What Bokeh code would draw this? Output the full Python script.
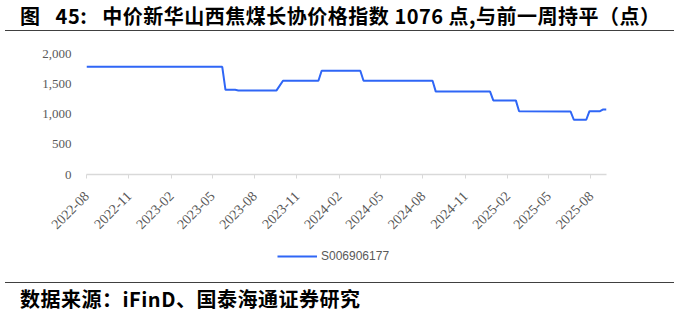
import pandas as pd
from bokeh.plotting import figure
from bokeh.layouts import column
from bokeh.models import (ColumnDataSource, FixedTicker, DatetimeTickFormatter, NumeralTickFormatter,
                          Legend, LegendItem, Range1d, Div)
from bokeh.embed import file_html
from bokeh.resources import INLINE

# ---- data ----
dates = ["2022-08-01", "2023-05-23", "2023-05-30", "2023-06-20", "2023-06-27",
         "2023-09-18", "2023-10-02", "2023-12-18", "2023-12-25", "2024-03-18",
         "2024-03-25", "2024-08-22", "2024-08-29", "2024-12-25", "2025-01-01",
         "2025-02-19", "2025-02-26", "2025-06-18", "2025-06-25", "2025-07-22",
         "2025-07-29", "2025-08-21", "2025-08-28", "2025-09-04"]
values = [1780, 1780, 1400, 1400, 1390,
          1390, 1550, 1550, 1715, 1715,
          1550, 1550, 1370, 1370, 1225,
          1225, 1046, 1040, 905, 905,
          1046, 1046, 1076, 1076]
x_tick_labels = ["2022-08", "2022-11", "2023-02", "2023-05", "2023-08", "2023-11",
                 "2024-02", "2024-05", "2024-08", "2024-11", "2025-02", "2025-05", "2025-08"]
y_ticks = [0, 500, 1000, 1500, 2000]
series_name = "S006906177"
title_text = "图&nbsp;&nbsp;&nbsp;45:&nbsp;&nbsp;&nbsp;中价新华山西焦煤长协价格指数 1076 点,与前一周持平（点）"
source_text = "数据来源：iFinD、国泰海通证券研究"

LINE_COLOR = "#2f66f6"

src = ColumnDataSource(dict(x=pd.to_datetime(dates), y=values))

FIG_TOP = 31       # canvas y where the chart figure starts
FIG_BOTTOM = 244   # canvas y where the chart figure ends
LEG_BOTTOM = 268   # canvas y where the legend strip ends
FL = 86            # frame left
FT = 53            # frame top (canvas)
FB = 174           # frame bottom (canvas)

p = figure(width=680, height=FIG_BOTTOM - FIG_TOP, x_axis_type="datetime", output_backend="svg",
           toolbar_location=None,
           x_range=Range1d(pd.Timestamp("2022-08-01"), pd.Timestamp("2025-09-04")),
           y_range=Range1d(0, 2000),
           min_border_left=FL, min_border_right=74, min_border_top=FT - FIG_TOP,
           min_border_bottom=FIG_BOTTOM - FB, margin=0)
p.outline_line_color = None
p.xgrid.visible = False
p.ygrid.visible = False

p.line("x", "y", source=src, line_color=LINE_COLOR, line_width=2)

tick_ms = [pd.Timestamp(t + "-01").value / 1e6 for t in x_tick_labels]
p.xaxis.ticker = FixedTicker(ticks=tick_ms)
fmt = "%Y-%m"
p.xaxis.formatter = DatetimeTickFormatter(days=fmt, months=fmt, years=fmt, hours=fmt,
                                          minutes=fmt, seconds=fmt, milliseconds=fmt,
                                          microseconds=fmt, hourmin=fmt, minsec=fmt)
p.xaxis.major_label_orientation = 0.785398
p.xaxis.axis_line_color = "#d9d9d9"
p.xaxis.axis_line_width = 1.5
p.xaxis.major_tick_line_color = "#d9d9d9"
p.xaxis.major_tick_in = 0
p.xaxis.major_tick_out = 4
p.xaxis.minor_tick_line_color = None
p.xaxis.major_label_text_font = "Liberation Serif"
p.xaxis.major_label_text_font_size = "14px"
p.xaxis.major_label_text_color = "#595959"
p.xaxis.major_label_standoff = 15

p.yaxis.ticker = FixedTicker(ticks=y_ticks)
p.yaxis.formatter = NumeralTickFormatter(format="0,0")
p.yaxis.axis_line_color = None
p.yaxis.major_tick_line_color = None
p.yaxis.major_tick_out = 0
p.yaxis.major_tick_in = 0
p.yaxis.minor_tick_line_color = None
p.yaxis.major_label_text_font = "Liberation Serif"
p.yaxis.major_label_text_font_size = "13px"
p.yaxis.major_label_text_color = "#595959"
p.yaxis.major_label_standoff = 15

# legend strip: a small figure whose frame covers it entirely
lh = LEG_BOTTOM - FIG_BOTTOM
pl = figure(width=680, height=lh, output_backend="svg", toolbar_location=None,
            x_range=Range1d(0, 1), y_range=Range1d(0, 1),
            min_border=0, margin=0, x_axis_location=None, y_axis_location=None)
pl.outline_line_color = None
pl.xgrid.visible = False
pl.ygrid.visible = False
# placeholder renderer (outside the visible range) that only feeds the legend glyph
lr = pl.line(x=[-5, -4], y=[-5, -4], line_color=LINE_COLOR, line_width=2)
legend = Legend(items=[LegendItem(label=series_name, renderers=[lr])],
                location=(277 - FL, (lh - 16) / 2), orientation="horizontal",
                glyph_width=40, glyph_height=16, label_height=16, label_standoff=4,
                padding=0, margin=0, spacing=0,
                border_line_color=None, background_fill_alpha=0,
                label_text_font="Liberation Sans", label_text_font_size="12px",
                label_text_color="#595959")
pl.add_layout(legend, "center")

title_div = Div(
    text=('<div style="box-sizing:border-box;width:669px;height:31px;padding:4px 0 0 15px;'
          'border-bottom:1.5px solid #404040;font-family:\'Noto Sans CJK SC\';font-weight:bold;'
          'font-size:20px;line-height:24px;letter-spacing:0.5px;color:#000;white-space:nowrap;">'
          + title_text + '</div>'),
    width=680, height=FIG_TOP, margin=(0, 0, 0, 5))

source_div = Div(
    text=('<div style="box-sizing:border-box;width:669px;height:46px;padding-top:14px;">'
          '<div style="box-sizing:border-box;height:32px;padding:4px 0 0 15px;'
          'border-top:1.5px solid #404040;font-family:\'Noto Sans CJK SC\';font-weight:bold;'
          'font-size:20px;line-height:24px;letter-spacing:0.5px;color:#000;white-space:nowrap;">'
          + source_text + '</div></div>'),
    width=680, height=314 - LEG_BOTTOM, margin=(0, 0, 0, 5))

layout = column(title_div, p, pl, source_div, spacing=0, margin=0)

open("out.html", "w").write(file_html(layout, INLINE))
